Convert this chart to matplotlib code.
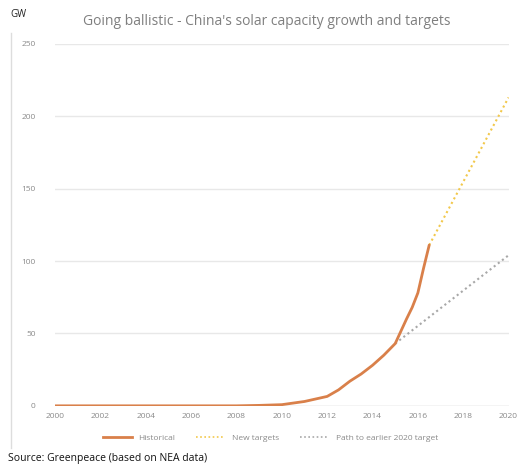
import numpy as np
import matplotlib.pyplot as plt
from matplotlib.lines import Line2D

plt.rcParams['font.family'] = ['Open Sans', 'DejaVu Sans']

hist_years = [2000, 2002, 2004, 2006, 2008, 2009, 2010, 2011, 2012, 2012.5, 2013,
              2013.5, 2014, 2014.5, 2015, 2015.5, 2015.75, 2016, 2016.25, 2016.5]
hist_gw = [0, 0, 0, 0, 0, 0.3, 0.8, 3, 6.5, 11, 17, 22, 28, 35, 43, 60, 68, 78, 95, 111]

new_years = [2016.5, 2020]
new_gw = [111, 213]

old_years = [2015, 2020]
old_gw = [43, 104]

xticks = list(range(2000, 2021, 2))
yticks = [0, 50, 100, 150, 200, 250]

fig = plt.figure(figsize=(5.2, 4.67), dpi=100)
ax = fig.add_axes([0.106, 0.131, 0.872, 0.775])

ax.plot(hist_years, hist_gw, color='#d9804a', lw=2.0, solid_capstyle='round', zorder=3)
ax.plot(new_years, new_gw, color='#f2c84b', lw=1.5, ls=(0, (1, 1.5)), zorder=2)
ax.plot(old_years, old_gw, color='#a8a8a8', lw=1.5, ls=(0, (1, 1.5)), zorder=2)

ax.set_xlim(2000, 2020)
ax.set_ylim(0, 250)
ax.set_xticks(xticks)
ax.set_yticks(yticks)
ax.tick_params(axis='both', length=0, labelsize=6, labelcolor='#8a8a8a')
ax.tick_params(axis='y', pad=14)
ax.tick_params(axis='x', pad=5)
ax.grid(axis='y', color='#e8e8e8', lw=1)
ax.set_axisbelow(True)
for s in ax.spines.values():
    s.set_visible(False)
ax.axhline(0, color='#e0e0e0', lw=1, zorder=1)

fig.text(0.513, 0.955, "Going ballistic - China's solar capacity growth and targets",
         ha='center', va='center', fontsize=10, color='#7f7f7f')
fig.text(0.02, 0.968, 'GW', ha='left', va='center', fontsize=7, color='#222222')
fig.text(0.015, 0.006, 'Source: Greenpeace (based on NEA data)', ha='left', va='bottom',
         fontsize=7.5, color='#111111')

# faint frame line on the left
fig.add_artist(Line2D([0.021, 0.021], [0.04, 0.93], color='#dddddd', lw=1))

handles = [Line2D([], [], color='#d9804a', lw=2),
           Line2D([], [], color='#f2c84b', lw=1.2, ls=(0, (1, 1.5))),
           Line2D([], [], color='#a8a8a8', lw=1.2, ls=(0, (1, 1.5)))]
fig.legend(handles, ['Historical', 'New targets', 'Path to earlier 2020 target'],
           loc='center', bbox_to_anchor=(0.52, 0.062), ncol=3, frameon=False,
           fontsize=6, labelcolor='#8a8a8a', handlelength=3.5, columnspacing=2.5)

fig.savefig('out.png', dpi=100, facecolor='white')
